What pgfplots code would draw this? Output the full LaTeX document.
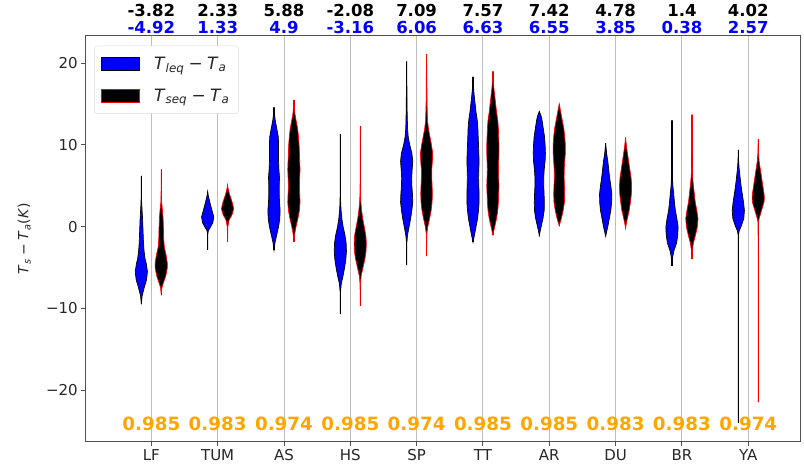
\documentclass[border=0pt]{standalone}
\usepackage{fontspec}
\setmainfont{DejaVu Sans}
\usepackage{pgfplots}
\pgfplotsset{compat=1.18}
\usepackage{pgfplotstable}
\definecolor{mplorange}{RGB}{255,165,0}
\definecolor{gridgray}{RGB}{190,190,190}
\definecolor{spine}{RGB}{80,80,80}

% ---------- violin outlines: y, relative half-width w ----------
\pgfplotstableread{
y w
-9.5 0
-8.5 0.12
-7.5 0.45
-6.5 0.85
-5.5 1.0
-4.5 0.8
-4 0.62
-3 0.45
-2 0.35
-1 0.3
0 0.25
1 0.2
2 0.12
3 0.05
4 0.02
6.2 0
}\LFa
\pgfplotstableread{
y w
-8.4 0
-7.5 0.1
-7 0.3
-6 0.75
-5 1.0
-4.5 1.0
-3.5 0.8
-2.5 0.5
-1.5 0.4
0 0.35
1 0.3
2 0.2
3 0.06
4.5 0.02
7 0
}\LFb
\pgfplotstableread{
y w
-2.8 0
-1 0.02
-0.5 0.1
0 0.5
0.5 0.85
1.2 1.0
2 0.7
3 0.35
3.8 0.1
4.3 0
}\TUMa
\pgfplotstableread{
y w
-1.9 0
0 0.05
0.8 0.25
1.5 0.75
2.2 1.0
3 0.75
4 0.3
4.7 0.08
5.1 0
}\TUMb
\pgfplotstableread{
y w
-2.9 0
-2 0.15
-1 0.45
0 0.75
1 0.95
2 1.0
3 0.9
4 0.85
5 0.85
6 0.9
7 0.8
8 0.75
9 0.75
10 0.75
11 0.7
12 0.45
13 0.2
14 0.05
14.6 0
}\ASa
\pgfplotstableread{
y w
-1.9 0
-1 0.1
0 0.35
1 0.65
2 0.9
3 1.0
4 0.95
5 0.9
6 0.95
7 1.0
8 0.95
9 0.9
10 0.85
11 0.75
12 0.6
13 0.35
14 0.12
15.5 0
}\ASb
\pgfplotstableread{
y w
-10.7 0
-8 0.03
-7 0.15
-6 0.45
-5 0.7
-4 0.9
-3 1.0
-2 0.95
-1 0.75
0 0.45
1 0.25
2 0.12
3 0.05
5 0.01
11.3 0
}\HSa
\pgfplotstableread{
y w
-9.7 0
-7 0.03
-6 0.15
-5 0.45
-4 0.75
-3 0.95
-2 1.0
-1 0.9
0 0.65
1 0.4
2 0.22
3 0.1
4 0.04
6 0.01
12.3 0
}\HSb
\pgfplotstableread{
y w
-4.7 0
-2 0.02
-1 0.15
0 0.4
1 0.65
2 0.85
3 1.0
4 0.95
5 0.85
6 0.82
7 0.9
8 1.0
9 0.85
10 0.5
11 0.25
12 0.15
14 0.08
16 0.05
18 0.03
20.2 0
}\SPa
\pgfplotstableread{
y w
-3.6 0
-1 0.03
0 0.2
1 0.5
2 0.75
3 0.9
4 0.95
5 0.9
6 0.85
7 0.85
8 0.95
9 1.0
10 0.8
11 0.55
12 0.3
13 0.15
15 0.08
18 0.04
21.1 0
}\SPb
\pgfplotstableread{
y w
-1.9 0
-1 0.25
0 0.5
1 0.75
2 0.9
3 1.0
4 1.0
5 0.95
6 0.92
7 0.95
8 1.0
9 0.95
10 0.9
11 0.85
12 0.8
13 0.7
14 0.5
15 0.35
16 0.2
17 0.08
18.3 0
}\TTa
\pgfplotstableread{
y w
-1 0
0 0.3
1 0.6
2 0.8
3 0.9
4 0.95
5 1.0
6 0.95
7 0.92
8 0.95
9 1.0
10 1.0
11 0.95
12 0.9
13 0.8
14 0.6
15 0.45
16 0.3
17 0.15
18 0.06
19 0
}\TTb
\pgfplotstableread{
y w
-1.1 0
-0.5 0.15
0 0.3
1 0.6
2 0.8
3 0.82
4 0.78
5 0.72
6 0.72
7 0.8
8 0.95
9 1.0
10 0.95
11 0.85
12 0.65
13 0.45
13.5 0.3
14.1 0
}\ARa
\pgfplotstableread{
y w
0.1 0
0.5 0.15
1 0.35
2 0.65
3 0.85
4 0.9
5 0.85
6 0.8
7 0.82
8 0.9
9 1.0
10 1.0
11 0.9
12 0.75
13 0.5
14 0.25
15 0
}\ARb
\pgfplotstableread{
y w
-1.2 0
-0.5 0.2
0 0.35
1 0.6
2 0.85
3 0.98
4 1.0
5 0.85
6 0.65
7 0.5
8 0.35
9 0.15
10.2 0
}\DUa
\pgfplotstableread{
y w
-0.2 0
0.5 0.15
1 0.3
2 0.6
3 0.8
4 0.95
5 1.0
6 0.9
7 0.7
8 0.5
9 0.3
10 0.12
10.9 0
}\DUb
\pgfplotstableread{
y w
-4.8 0
-4 0.05
-3 0.3
-2 0.75
-1 0.95
0 1.0
1 0.8
2 0.55
3 0.4
4 0.28
5 0.15
6 0.06
8 0.02
13 0
}\BRa
\pgfplotstableread{
y w
-4 0
-3 0.05
-2 0.25
-1 0.6
0 0.9
1 1.0
2 0.8
3 0.55
4 0.4
5 0.25
6 0.12
7 0.05
9 0.02
13.7 0
}\BRb
\pgfplotstableread{
y w
-24 0
-5 0.005
-1 0.03
-0.5 0.15
0 0.45
1 0.9
2 1.0
3 0.85
4 0.65
5 0.45
6 0.3
7 0.15
8 0.05
9.4 0
}\YAa
\pgfplotstableread{
y w
-21.5 0
-3 0.005
0.5 0.03
1 0.15
2 0.55
3 0.95
3.5 1.0
4 0.95
5 0.75
6 0.55
7 0.35
8 0.15
9 0.05
10.7 0
}\YAb

% build the closed outline: right side upwards, left side downwards
\newcommand{\closeviolin}[1]{%
  \pgfplotstablesort[sort key=y, sort cmp=float >]{\tmprev}{#1}%
  \pgfplotstablecreatecol[expr={1}]{s}{#1}%
  \pgfplotstablecreatecol[expr={-1}]{s}{\tmprev}%
  \pgfplotstablevertcat{#1}{\tmprev}%
}
\closeviolin{\LFa}\closeviolin{\LFb}
\closeviolin{\TUMa}\closeviolin{\TUMb}
\closeviolin{\ASa}\closeviolin{\ASb}
\closeviolin{\HSa}\closeviolin{\HSb}
\closeviolin{\SPa}\closeviolin{\SPb}
\closeviolin{\TTa}\closeviolin{\TTb}
\closeviolin{\ARa}\closeviolin{\ARb}
\closeviolin{\DUa}\closeviolin{\DUb}
\closeviolin{\BRa}\closeviolin{\BRb}
\closeviolin{\YAa}\closeviolin{\YAb}

% ---------- annotation rows ----------
\pgfplotstableread{
x y lab
1 26.1 -3.82
2 26.1 2.33
3 26.1 5.88
4 26.1 -2.08
5 26.1 7.09
6 26.1 7.57
7 26.1 7.42
8 26.1 4.78
9 26.1 1.4
10 26.1 4.02
}\toprow
\pgfplotstableread{
x y lab
1 24.12 -4.92
2 24.12 1.33
3 24.12 4.9
4 24.12 -3.16
5 24.12 6.06
6 24.12 6.63
7 24.12 6.55
8 24.12 3.85
9 24.12 0.38
10 24.12 2.57
}\midrow
\pgfplotstableread{
x y lab
1 -24.5 0.985
2 -24.5 0.983
3 -24.5 0.974
4 -24.5 0.985
5 -24.5 0.974
6 -24.5 0.985
7 -24.5 0.985
8 -24.5 0.983
9 -24.5 0.983
10 -24.5 0.974
}\botrow

% #1 table, #2 centre, #3 fill, #4 edge colour
\newcommand{\violin}[4]{%
  \addplot[#4, line width=1.3pt, forget plot] table[x expr=#2, y=y] {#1};
  \addplot[fill=#3, draw=#4, line width=0.7pt, forget plot] table[x expr=#2+0.092*\thisrow{w}*\thisrow{s}, y=y] {#1} -- cycle;
}
\newcommand{\vsp}{\hspace{0.25em}}

\begin{document}
\begin{tikzpicture}
\begin{axis}[
  at={(85.3pt,27.3pt)}, anchor=south west,
  scale only axis, width=714.7pt, height=406pt,
  xmin=0.005, xmax=10.78, ymin=-26.3, ymax=23.35,
  clip=false,
  axis line style={spine, line width=0.9pt},
  xtick={1,2,3,4,5,6,7,8,9,10},
  xticklabels={LF,TUM,AS,HS,SP,TT,AR,DU,BR,YA},
  ytick={-20,-10,0,10,20},
  yticklabels={−20,−10,0,10,20},
  tick align=outside, tick pos=left,
  major tick length=4pt,
  tick style={spine, line width=0.9pt},
  xmajorgrids, grid style={gridgray, line width=0.9pt},
  ticklabel style={font=\fontsize{15}{18}\selectfont, text=black!85},
  /pgf/number format/assume math mode=true,
  ylabel={\textit{T}\textsubscript{\textit{s}}\vsp−\vsp\textit{T}\textsubscript{\textit{a}}(\textit{K})},
  ylabel style={font=\fontsize{14}{17}\selectfont, text=black!85},
  ylabel shift=8.5pt,
  legend style={at={(0.0125,0.9755)}, anchor=north west,
    draw=black!15, rounded corners=3pt, fill=white,
    font=\fontsize{17}{20}\selectfont, text=black!85,
    row sep=14pt, inner xsep=7pt, inner ysep=9pt},
  legend cell align=left,
  legend image code/.code={\draw[#1, sharp corners] (0pt,-6.5pt) rectangle (38pt,6.5pt);},
]
\addlegendimage{fill=blue, draw=black, line width=0.8pt}
\addlegendentry{\hspace*{12pt}\textit{T}\textsubscript{\textit{leq}}\vsp−\vsp\textit{T}\textsubscript{\textit{a}}}
\addlegendimage{fill=black, draw=red, line width=0.8pt}
\addlegendentry{\hspace*{12pt}\textit{T}\textsubscript{\textit{seq}}\vsp−\vsp\textit{T}\textsubscript{\textit{a}}}

\violin{\LFa}{0.85}{blue}{black}
\violin{\LFb}{1.15}{black}{red}
\violin{\TUMa}{1.85}{blue}{black}
\violin{\TUMb}{2.15}{black}{red}
\violin{\ASa}{2.85}{blue}{black}
\violin{\ASb}{3.15}{black}{red}
\violin{\HSa}{3.85}{blue}{black}
\violin{\HSb}{4.15}{black}{red}
\violin{\SPa}{4.85}{blue}{black}
\violin{\SPb}{5.15}{black}{red}
\violin{\TTa}{5.85}{blue}{black}
\violin{\TTb}{6.15}{black}{red}
\violin{\ARa}{6.85}{blue}{black}
\violin{\ARb}{7.15}{black}{red}
\violin{\DUa}{7.85}{blue}{black}
\violin{\DUb}{8.15}{black}{red}
\violin{\BRa}{8.85}{blue}{black}
\violin{\BRb}{9.15}{black}{red}
\violin{\YAa}{9.85}{blue}{black}
\violin{\YAb}{10.15}{black}{red}

\addplot[only marks, mark=none, forget plot, nodes near coords, point meta=explicit symbolic,
  every node near coord/.style={anchor=center, inner sep=0pt, text height=0.72em, text depth=0pt, text=black, font=\bfseries\fontsize{16.5}{19}\selectfont}]
  table[x=x, y=y, meta=lab] {\toprow};
\addplot[only marks, mark=none, forget plot, nodes near coords, point meta=explicit symbolic,
  every node near coord/.style={anchor=center, inner sep=0pt, text height=0.72em, text depth=0pt, text=blue, font=\bfseries\fontsize{16.5}{19}\selectfont}]
  table[x=x, y=y, meta=lab] {\midrow};
\addplot[only marks, mark=none, forget plot, nodes near coords, point meta=explicit symbolic,
  every node near coord/.style={anchor=center, inner sep=0pt, text height=0.72em, text depth=0pt, text=mplorange, font=\bfseries\fontsize{18.3}{21}\selectfont}]
  table[x=x, y=y, meta=lab] {\botrow};
\end{axis}
\pgfresetboundingbox
\path[use as bounding box] (0,0) rectangle (804pt,469pt);
\end{tikzpicture}
\end{document}
